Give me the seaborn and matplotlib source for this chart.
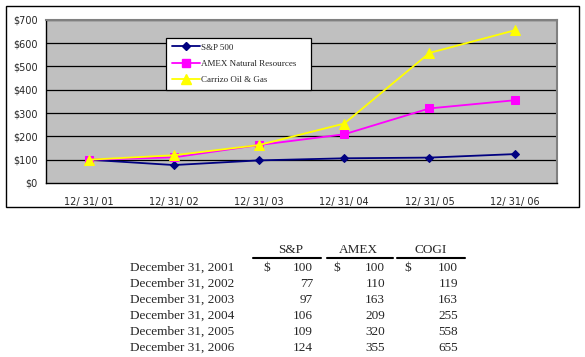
import matplotlib
matplotlib.use("Agg")
import matplotlib.pyplot as plt
import seaborn as sns
import pandas as pd
from matplotlib.patches import Rectangle
from matplotlib.lines import Line2D

# ---- data ----
dates = ["12/ 31/ 01", "12/ 31/ 02", "12/ 31/ 03", "12/ 31/ 04", "12/ 31/ 05", "12/ 31/ 06"]
sp500 = [100, 77, 97, 106, 109, 124]
amex = [100, 110, 163, 209, 320, 355]
cogi = [100, 119, 163, 255, 558, 655]
series_names = ["S&P 500", "AMEX Natural Resources", "Carrizo Oil & Gas"]
yticks = [0, 100, 200, 300, 400, 500, 600, 700]
row_labels = ["December 31, 2001", "December 31, 2002", "December 31, 2003",
              "December 31, 2004", "December 31, 2005", "December 31, 2006"]
table_headers = ["S&P", "AMEX", "COGI"]

colors = ["#000080", "#FF00FF", "#FFFF00"]
markers = ["D", "s", "^"]
msizes = [4.5, 5.5, 6.5]

df = pd.DataFrame({
    "date": dates * 3,
    "value": sp500 + amex + cogi,
    "series": [series_names[0]] * 6 + [series_names[1]] * 6 + [series_names[2]] * 6,
})

sns.set_style("white")
fig = plt.figure(figsize=(5.85, 3.57), dpi=100)

# outer chart box
fig.patches.append(Rectangle((0.0103, 0.420), 0.979, 0.563, transform=fig.transFigure,
                             fill=False, edgecolor="black", linewidth=1.0))

ax = fig.add_axes([0.0786, 0.4874, 0.874, 0.457])
ax.set_facecolor("#C0C0C0")

for name, c, m, ms in zip(series_names, colors, markers, msizes):
    sub = df[df["series"] == name]
    sns.lineplot(data=sub, x="date", y="value", ax=ax, color=c, marker=m,
                 markersize=ms, markeredgecolor=c, linewidth=1.3, legend=False,
                 zorder=3)

ax.set_xlim(-0.5, 5.5)
ax.set_ylim(0, 700)
ax.set_yticks(yticks)
ax.set_yticklabels([f"${v}" for v in yticks], fontsize=7, family="DejaVu Sans")
for v in yticks[1:]:
    ax.axhline(v, color="black", linewidth=0.9, zorder=1)

ax.set_xticks([i - 0.5 for i in range(7)])
ax.set_xticklabels([])
ax.set_xticks(range(6), minor=True)
ax.set_xticklabels(dates, minor=True, fontsize=7, family="DejaVu Sans")
ax.tick_params(axis="x", which="major", direction="out", length=4, width=0.8, color="black")
ax.tick_params(axis="x", which="minor", length=0, pad=10)
ax.tick_params(axis="y", direction="out", length=4, width=0.8, color="black", pad=2)
ax.set_xlabel("")
ax.set_ylabel("")

for s in ["left", "bottom"]:
    ax.spines[s].set_color("black")
    ax.spines[s].set_linewidth(1.0)
for s in ["top", "right"]:
    ax.spines[s].set_visible(True)
    ax.spines[s].set_color("#808080")
    ax.spines[s].set_linewidth(1.5)

handles = [Line2D([0], [0], color=c, marker=m, markersize=ms, markeredgecolor=c, linewidth=1.3)
           for c, m, ms in zip(colors, markers, msizes)]
leg = ax.legend(handles, series_names, loc="center left",
                bbox_to_anchor=(0.235, 0.571, 0.284, 0.319), mode="expand",
                frameon=True, fancybox=False, framealpha=1, edgecolor="black",
                prop={"family": "Liberation Serif", "size": 6.5},
                handlelength=3.2, handletextpad=0.1, borderaxespad=0,
                labelspacing=0.9, borderpad=0.6)
leg.get_frame().set_linewidth(0.9)
leg.set_zorder(5)

# ---- table below ----
def fy(py):
    return 1 - py / 357

def fx(px):
    return px / 585

tfont = {"family": "Liberation Serif", "size": 9.5}
header_x = [291, 358, 431]
line_spans = [(253, 321), (327, 393), (397, 465)]
for h, hx, (a, b) in zip(table_headers, header_x, line_spans):
    fig.text(fx(hx), fy(250), h, ha="center", va="center", **tfont)
    fig.add_artist(Line2D([fx(a), fx(b)], [fy(258), fy(258)], color="black",
                          linewidth=1.5, transform=fig.transFigure))

dollar_x = [263, 333, 404]
value_right = [313, 385, 458]
row_y = [268, 284, 300, 316, 332, 348]
cols = [sp500, amex, cogi]
for i, (lab, ry) in enumerate(zip(row_labels, row_y)):
    fig.text(fx(130), fy(ry), lab, ha="left", va="center", **tfont)
    for j, col in enumerate(cols):
        if i == 0:
            fig.text(fx(dollar_x[j]), fy(ry), "$", ha="left", va="center", **tfont)
        fig.text(fx(value_right[j]), fy(ry), str(col[i]), ha="right", va="center", **tfont)

fig.savefig("out.png", dpi=100)
